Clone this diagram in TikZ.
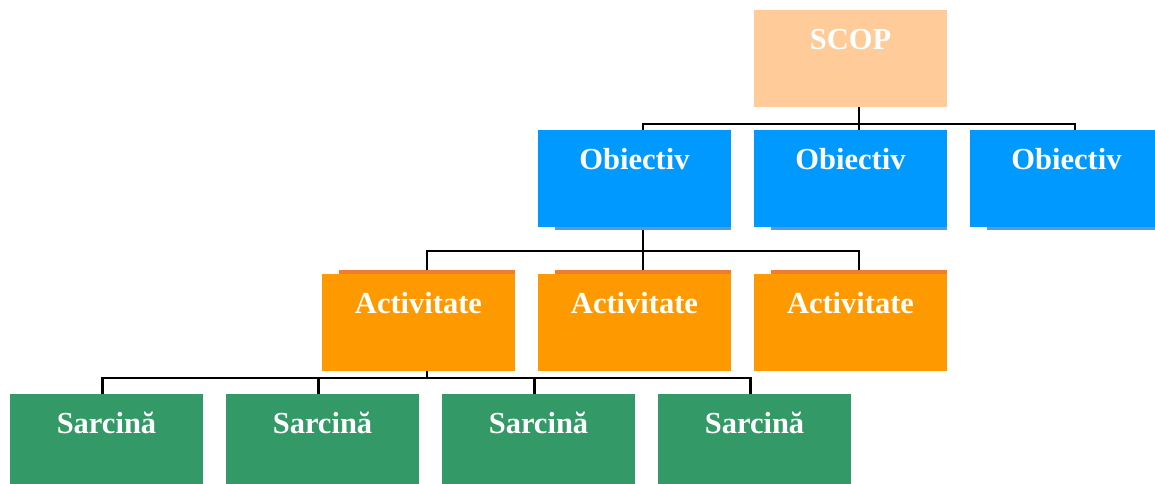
\documentclass[tikz,border=0pt]{standalone}
\usepackage{fontspec}
\setmainfont{Liberation Serif}
\definecolor{scopc}{HTML}{FFCC99}
\definecolor{objc}{HTML}{0099FF}
\definecolor{objsh}{HTML}{5B9BD5}
\definecolor{actc}{HTML}{FF9900}
\definecolor{actsh}{HTML}{ED7D31}
\definecolor{sarc}{HTML}{339966}
\pgfdeclarelayer{bg}
\pgfsetlayers{bg,main}
\tikzset{
  box/.style={inner sep=0pt, outer sep=0pt, minimum width=193pt, text width=193pt, align=center,
    text height=39pt, text depth=58pt, text=white,
    font=\fontsize{30.5}{36}\selectfont\bfseries},
  scopbox/.style={box, fill=scopc},
  objbox/.style={box, fill=objc},
  actbox/.style={box, fill=actc},
  sarbox/.style={box, fill=sarc},
  conn/.style={draw=black, line width=2.4pt},
}
\begin{document}
\begin{tikzpicture}[x=1pt,y=-1pt]
\useasboundingbox (0,0) rectangle (1155,483);
\clip (0,0) rectangle (1155,483);
% boxes
\node[scopbox, anchor=north west] (scop) at (754,10) {SCOP};
\node[objbox, anchor=north west] (o1) at (538,130) {Obiectiv};
\node[objbox, anchor=north west] (o2) at (754,130) {Obiectiv};
\node[objbox, anchor=north west] (o3) at (970,130) {Obiectiv};
\node[actbox, anchor=north west] (a1) at (322,274) {Activitate};
\node[actbox, anchor=north west] (a2) at (538,274) {Activitate};
\node[actbox, anchor=north west] (a3) at (754,274) {Activitate};
\node[sarbox, anchor=north west] (s1) at (10,394) {Sarcină};
\node[sarbox, anchor=north west] (s2) at (226,394) {Sarcină};
\node[sarbox, anchor=north west] (s3) at (442,394) {Sarcină};
\node[sarbox, anchor=north west] (s4) at (658,394) {Sarcină};
% shadow strips
\fill[objsh] (555,227) rectangle (731,230);
\fill[objsh] (771,227) rectangle (947,230);
\fill[objsh] (987,227) rectangle (1163,230);
\fill[actsh] (339,270) rectangle (515,274);
\fill[actsh] (555,270) rectangle (731,274);
\fill[actsh] (771,270) rectangle (947,274);
% connectors
\begin{pgfonlayer}{bg}
\draw[conn] ([xshift=8.5pt]scop.south) -- ([xshift=8.5pt]o2.north);
\draw[conn] ([xshift=8.5pt]o1.north) -- ++(0,-6) -| ([xshift=8.5pt]o3.north);
\draw[conn] ([xshift=8.5pt]o1.south) -- ([xshift=8.5pt]a2.north);
\draw[conn] ([xshift=8.5pt]a1.north) -- ++(0,-23) -| ([xshift=8.5pt]a3.north);
\draw[conn] ([xshift=8.5pt]a1.south) -- ++(0,7);
\draw[conn] ([xshift=-4pt]s1.north) -- ++(0,-16) -| ([xshift=-4pt]s4.north);
\draw[conn] ([xshift=-4pt]s2.north) -- ++(0,-16);
\draw[conn] ([xshift=-4pt]s3.north) -- ++(0,-16);
\end{pgfonlayer}
\end{tikzpicture}
\end{document}
